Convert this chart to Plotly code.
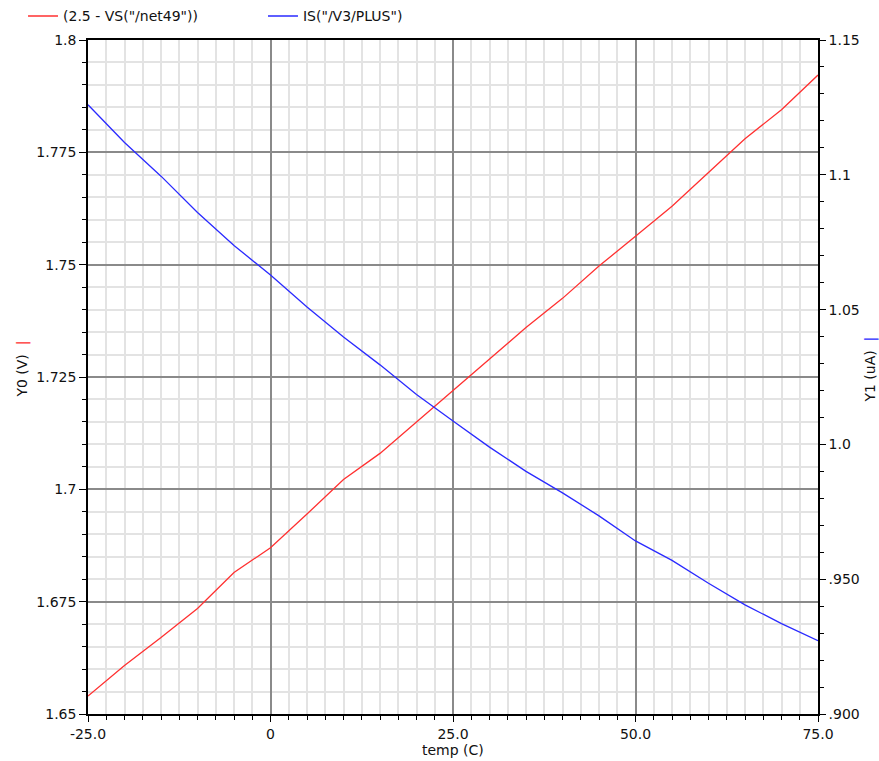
import plotly.graph_objects as go

temp = [-25, -20, -15, -10, -5, 0, 5, 10, 15, 20, 25, 30, 35, 40, 45, 50, 55, 60, 65, 70, 75]
vout = [1.6540, 1.6608, 1.6670, 1.6735, 1.6815, 1.6870, 1.6945, 1.7022, 1.7080, 1.7150, 1.7218,
        1.7290, 1.7360, 1.7425, 1.7497, 1.7563, 1.7630, 1.7705, 1.7780, 1.7845, 1.7922]
iout = [1.1260, 1.1120, 1.0995, 1.0860, 1.0738, 1.0628, 1.0510, 1.0398, 1.0295, 1.0185, 1.0087,
        0.9990, 0.9900, 0.9820, 0.9735, 0.9642, 0.9570, 0.9485, 0.9405, 0.9335, 0.9272]

x_ticks = [-25, 0, 25, 50, 75]
x_labels = ["-25.0", "0", "25.0", "50.0", "75.0"]
y0_ticks = [1.65, 1.675, 1.7, 1.725, 1.75, 1.775, 1.8]
y0_labels = ["1.65", "1.675", "1.7", "1.725", "1.75", "1.775", "1.8"]
y1_ticks = [0.9, 0.95, 1.0, 1.05, 1.1, 1.15]
y1_labels = [".900", ".950", "1.0", "1.05", "1.1", "1.15"]

FONT = "DejaVu Sans"
RED = "#ff3030"
BLUE = "#2a2aff"
fig = go.Figure()
fig.add_trace(go.Scatter(x=temp, y=vout, mode="lines", name='(2.5 - VS("/net49"))',
                         line=dict(color=RED, width=1.3), yaxis="y", legend="legend"))
fig.add_trace(go.Scatter(x=temp, y=iout, mode="lines", name='IS("/V3/PLUS")',
                         line=dict(color=BLUE, width=1.3), yaxis="y2", legend="legend2"))

leg_common = dict(orientation="h", xanchor="left", y=1.035, yanchor="middle",
                  font=dict(size=14), bgcolor="rgba(0,0,0,0)", itemwidth=30)

fig.update_layout(
    width=879, height=761,
    margin=dict(l=88, r=61, t=40, b=47, autoexpand=False),
    paper_bgcolor="white", plot_bgcolor="white",
    font=dict(family=FONT, size=14, color="#111"),
    showlegend=True,
    legend=dict(x=-0.089, **leg_common),
    legend2=dict(x=0.2397, **leg_common),
    xaxis=dict(range=[-25, 75], tickvals=x_ticks, ticktext=x_labels, automargin=False,
               showgrid=True, gridcolor="#8a8a8a", gridwidth=1.5,
               showline=True, linecolor="black", linewidth=1.5, mirror=True,
               ticks="outside", ticklen=6, tickcolor="black", tickwidth=1.3,
               zeroline=False,
               minor=dict(dtick=2.5, showgrid=True, gridcolor="#e3e3e3", gridwidth=1.5,
                          ticks="outside", ticklen=4, tickcolor="black", tickwidth=1.2)),
    yaxis=dict(range=[1.65, 1.8], tickvals=y0_ticks, ticktext=y0_labels, automargin=False,
               showgrid=True, gridcolor="#8a8a8a", gridwidth=1.5,
               showline=True, linecolor="black", linewidth=1.5,
               ticks="outside", ticklen=7, tickcolor="black", tickwidth=1.3,
               zeroline=False,
               minor=dict(dtick=0.005, tick0=1.65, showgrid=True, gridcolor="#e3e3e3", gridwidth=1.5,
                          ticks="outside", ticklen=4, tickcolor="black", tickwidth=1.2)),
    yaxis2=dict(range=[0.9, 1.15], tickvals=y1_ticks, ticktext=y1_labels, automargin=False,
                overlaying="y", side="right", showgrid=False,
                showline=True, linecolor="black", linewidth=1.5,
                ticks="outside", ticklen=6, tickcolor="black", tickwidth=1.3,
                zeroline=False,
                minor=dict(dtick=0.01, tick0=0.9, showgrid=False,
                           ticks="outside", ticklen=4, tickcolor="black", tickwidth=1.2)),
    annotations=[
        dict(text="temp (C)", xref="paper", yref="paper", x=0.5, y=-0.038,
             xanchor="center", yanchor="top", showarrow=False, font=dict(size=14)),
        dict(text=f"Y0 (V)&nbsp;&nbsp;<span style='color:{RED}'>|</span>", xref="paper", yref="paper",
             x=-0.089, y=0.511, textangle=-90, xanchor="center", yanchor="middle",
             showarrow=False, font=dict(size=14)),
        dict(text=f"Y1 (uA)&nbsp;&nbsp;<span style='color:{BLUE}'>|</span>", xref="paper", yref="paper",
             x=1.0726, y=0.511, textangle=-90, xanchor="center", yanchor="middle",
             showarrow=False, font=dict(size=14)),
    ],
)

fig.write_html("out.html", config={"displayModeBar": False},
               post_script="document.body.style.margin='0';document.body.style.overflow='hidden';")
